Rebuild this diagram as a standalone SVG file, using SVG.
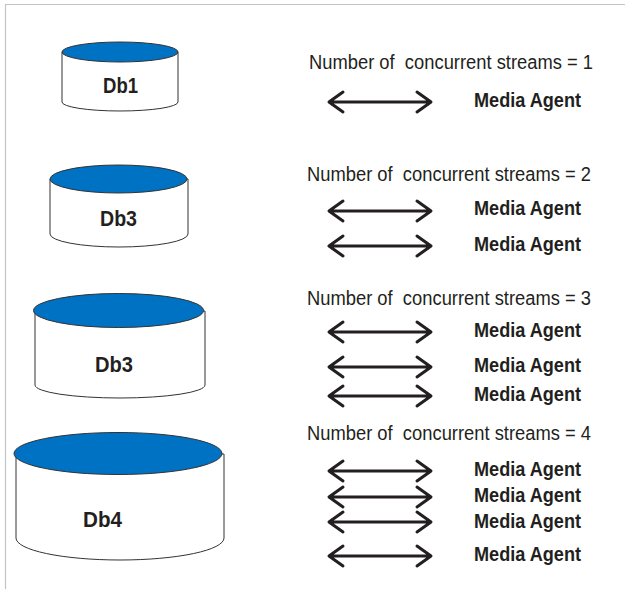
<svg xmlns="http://www.w3.org/2000/svg" width="625" height="589" viewBox="0 0 625 589">
<style>
.frame{fill:none;stroke:#c4c4c4;stroke-width:1.2}
.top{fill:#0072c4;stroke:#333;stroke-width:1}
.body{fill:#fff;stroke:#333;stroke-width:1}
.lbl{font-family:"Liberation Sans",Arial,sans-serif;font-weight:bold;font-size:22px;fill:#231f20}
.num{font-family:"Liberation Sans",Arial,sans-serif;font-size:21px;fill:#231f20}
.ma{font-family:"Liberation Sans",Arial,sans-serif;font-weight:bold;font-size:21px;fill:#231f20}
.arr{fill:none;stroke:#231f20;stroke-width:3;stroke-linecap:round;stroke-linejoin:round}
</style>
<defs>
<path id="a" d="M330,0 H430 M343,-10 L329,0 L343,10 M417,-10 L431,0 L417,10"/>
</defs>
<path class="frame" d="M5.5,589 V4.5 H625"/>
<g id="db1">
<path class="body" d="M62,52 V102 A58,9 0 0 0 178,102 V52 Z"/>
<ellipse class="top" cx="120" cy="52" rx="58" ry="10"/>
<text class="lbl" x="103" y="93" textLength="35" lengthAdjust="spacingAndGlyphs">Db1</text>
</g>
<g id="db2">
<path class="body" d="M50,179 V234 A69,13 0 0 0 188,234 V179 Z"/>
<ellipse class="top" cx="118.5" cy="179" rx="68.5" ry="14"/>
<text class="lbl" x="100" y="226" textLength="37" lengthAdjust="spacingAndGlyphs">Db3</text>
</g>
<g id="db3">
<path class="body" d="M35,311 V385 A85,13 0 0 0 205,385 V311 Z"/>
<ellipse class="top" cx="118.5" cy="310.5" rx="85" ry="17"/>
<text class="lbl" x="95" y="372" textLength="38" lengthAdjust="spacingAndGlyphs">Db3</text>
</g>
<g id="db4">
<path class="body" d="M16,454 V538 A104,22 0 0 0 224,538 V454 Z"/>
<ellipse class="top" cx="118" cy="453.5" rx="104" ry="21"/>
<text class="lbl" x="83" y="527" textLength="39" lengthAdjust="spacingAndGlyphs">Db4</text>
</g>
<g id="labels">
<text class="num" xml:space="preserve" transform="translate(309,69) scale(0.874,1)">Number of  concurrent streams = 1</text>
<text class="num" xml:space="preserve" transform="translate(307,181) scale(0.874,1)">Number of  concurrent streams = 2</text>
<text class="num" xml:space="preserve" transform="translate(307,305) scale(0.874,1)">Number of  concurrent streams = 3</text>
<text class="num" xml:space="preserve" transform="translate(307,440) scale(0.874,1)">Number of  concurrent streams = 4</text>
</g>
<g id="agents">
<text class="ma" x="474" y="107" textLength="107" lengthAdjust="spacingAndGlyphs">Media Agent</text>
<text class="ma" x="474" y="215" textLength="107" lengthAdjust="spacingAndGlyphs">Media Agent</text>
<text class="ma" x="474" y="251" textLength="107" lengthAdjust="spacingAndGlyphs">Media Agent</text>
<text class="ma" x="474" y="337" textLength="107" lengthAdjust="spacingAndGlyphs">Media Agent</text>
<text class="ma" x="474" y="372" textLength="107" lengthAdjust="spacingAndGlyphs">Media Agent</text>
<text class="ma" x="474" y="401" textLength="107" lengthAdjust="spacingAndGlyphs">Media Agent</text>
<text class="ma" x="474" y="476" textLength="107" lengthAdjust="spacingAndGlyphs">Media Agent</text>
<text class="ma" x="474" y="502" textLength="107" lengthAdjust="spacingAndGlyphs">Media Agent</text>
<text class="ma" x="474" y="528" textLength="107" lengthAdjust="spacingAndGlyphs">Media Agent</text>
<text class="ma" x="474" y="561" textLength="107" lengthAdjust="spacingAndGlyphs">Media Agent</text>
</g>
<g id="connectors">
<use class="arr" href="#a" y="102"/>
<use class="arr" href="#a" y="211"/>
<use class="arr" href="#a" y="246"/>
<use class="arr" href="#a" y="332"/>
<use class="arr" href="#a" y="367"/>
<use class="arr" href="#a" y="396"/>
<use class="arr" href="#a" y="471"/>
<use class="arr" href="#a" y="497"/>
<use class="arr" href="#a" y="522"/>
<use class="arr" href="#a" y="556"/>
</g>
</svg>
